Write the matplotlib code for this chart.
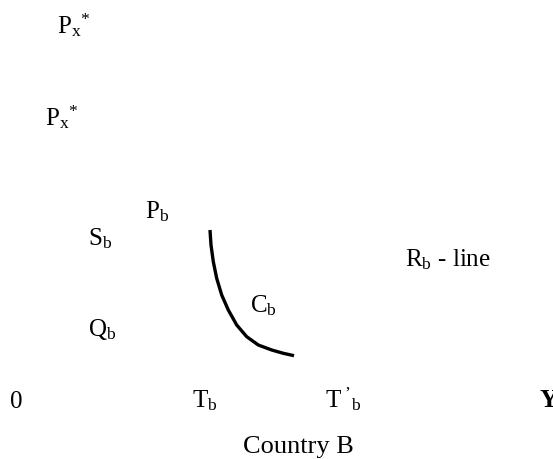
import matplotlib.pyplot as plt

plt.rcParams['font.family'] = 'Liberation Serif'
plt.rcParams['mathtext.fontset'] = 'custom'
plt.rcParams['mathtext.rm'] = 'Liberation Serif'
plt.rcParams['mathtext.it'] = 'Liberation Serif:italic'
plt.rcParams['mathtext.bf'] = 'Liberation Serif:bold'

# curve C_b (picture coordinates, y down)
curve_x = [210, 211, 213.3, 216.7, 221.7, 228.3, 236.7, 246.7, 258.3, 271.7, 283.3, 294]
curve_y = [230, 245, 261.7, 278.3, 295, 310, 325, 336.7, 345, 350, 353.3, 355.7]

# labels
labels = [r'$\mathrm{P}_{\mathrm{x}}{}^{*}$', r'$\mathrm{P}_{\mathrm{x}}{}^{*}$',
          r'$\mathrm{P}_{\mathrm{b}}$', r'$\mathrm{S}_{\mathrm{b}}$',
          r'$\mathrm{Q}_{\mathrm{b}}$', r'$\mathrm{C}_{\mathrm{b}}$',
          r'$\mathrm{R}_{\mathrm{b}}$ - line', '0', r'$\mathrm{T}_{\mathrm{b}}$',
          r"$\mathrm{T}^{\ \mathrm{’}}{}_{\mathrm{b}}$"]
label_x = [57, 45, 145, 88, 88, 250, 405, 10, 192, 325]
label_y = [33, 125, 218, 245, 336, 312, 266, 408, 407, 407]

fig = plt.figure(figsize=(5.53, 4.59), dpi=100)
ax = fig.add_axes([0, 0, 1, 1])
ax.set_xlim(0, 553)
ax.set_ylim(459, 0)
ax.axis('off')

ax.plot(curve_x, curve_y, color='black', lw=2.4, solid_capstyle='butt')

for t, x, y in zip(labels, label_x, label_y):
    ax.text(x, y, t, fontsize=18, ha='left', va='baseline')

ax.text(540, 407, 'Y', fontsize=18, fontweight='bold', ha='left', va='baseline')
ax.text(243, 453, 'Country B', fontsize=19, ha='left', va='baseline')

fig.savefig('out.png', dpi=100)
